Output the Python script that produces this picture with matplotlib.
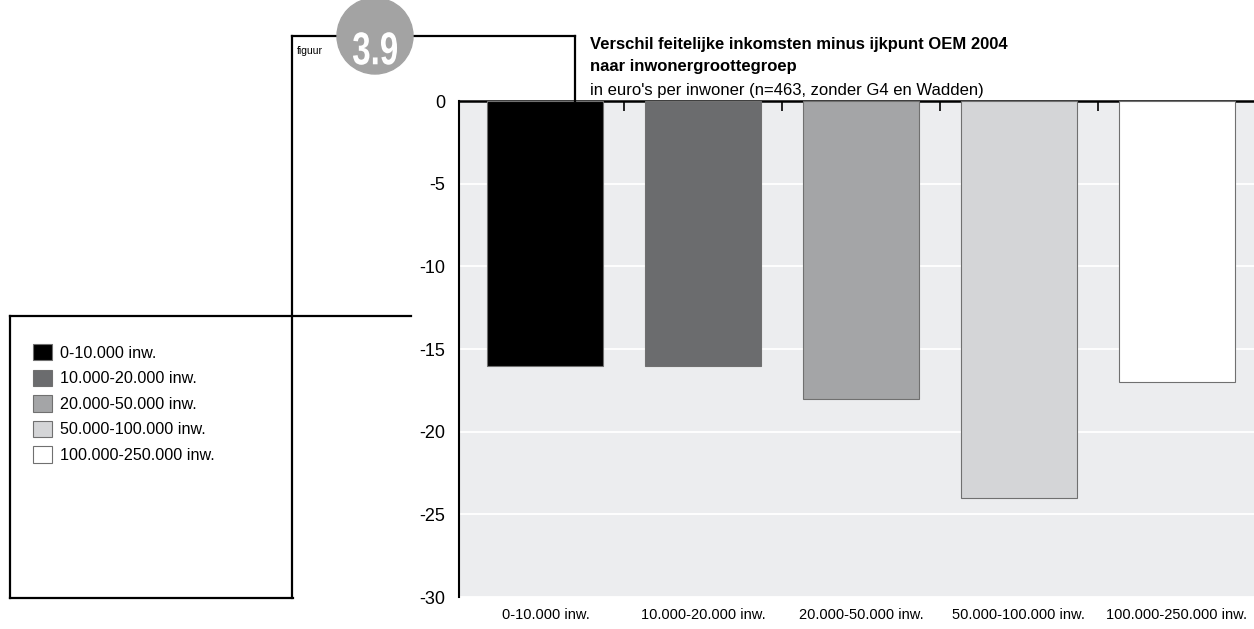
import matplotlib.pyplot as plt
from matplotlib.lines import Line2D
from matplotlib.patches import Circle, Patch, PathPatch
from matplotlib.textpath import TextPath
from matplotlib.font_manager import FontProperties
from matplotlib.transforms import IdentityTransform, Affine2D

plt.rcParams['font.family'] = ['Liberation Sans', 'DejaVu Sans']

groepen = ['0-10.000 inw.', '10.000-20.000 inw.', '20.000-50.000 inw.',
           '50.000-100.000 inw.', '100.000-250.000 inw.']
verschil = [-16, -16, -18, -24, -17]
kleuren = ['#000000', '#6b6c6e', '#a4a5a7', '#d4d5d7', '#ffffff']
y_ticks = [0, -5, -10, -15, -20, -25, -30]

W, H = 1254, 629
fig = plt.figure(figsize=(W / 100, H / 100), dpi=100)


def fx(x):
    return x / W


def fy(y):
    return 1 - y / H


# plot area
ax = fig.add_axes([fx(459), fy(597), fx(1254) - fx(459), fy(101) - fy(597)])
ax.set_facecolor('#ecedef')
x = list(range(len(groepen)))
ax.bar(x, verschil, width=0.735, color=kleuren, edgecolor='#707070',
       linewidth=0.8, zorder=3)
ax.set_xlim(-0.548, 4.49)
ax.set_ylim(-30, 0)
ax.set_yticks(y_ticks)
ax.set_yticklabels([str(v) for v in y_ticks], fontsize=13)
ax.yaxis.grid(True, color='white', linewidth=1.3, zorder=0)
ax.set_axisbelow(True)
ax.tick_params(axis='y', length=0, pad=10)

ax.set_xticks(x)
ax.set_xticklabels(groepen, fontsize=10.5)
ax.tick_params(axis='x', which='major', length=0, pad=8)
ax.set_xticks([0.5, 1.5, 2.5, 3.5], minor=True)
ax.tick_params(axis='x', which='minor', top=True, bottom=False,
               direction='in', length=7.5, width=1.2, color='black')

for side in ['right', 'bottom']:
    ax.spines[side].set_visible(False)
ax.spines['left'].set_linewidth(1.5)
ax.spines['top'].set_linewidth(1.8)

# frame lines around header and legend
lijnen = [
    ((292, 292), (36, 598)),
    ((292, 575), (36, 36)),
    ((575, 575), (36, 101)),
    ((10, 411), (316, 316)),
    ((10, 10), (316, 598)),
    ((10, 293), (598, 598)),
]
for xs, ys in lijnen:
    fig.add_artist(Line2D([fx(v) for v in xs], [fy(v) for v in ys],
                          color='black', linewidth=1.6,
                          transform=fig.transFigure))

# figure number badge, narrow bold digits
fig.add_artist(Circle((375, H - 36), 38, transform=IdentityTransform(),
                      color='#a3a3a3', zorder=5))
nummer = TextPath((0, 0), '3.9', size=46,
                  prop=FontProperties(family='Liberation Sans', weight='bold'))
bb = nummer.get_extents()
schaal = Affine2D().translate(-(bb.x0 + bb.x1) / 2, -(bb.y0 + bb.y1) / 2) \
    .scale(0.72, 1.0).translate(375, H - 48.5)
fig.add_artist(PathPatch(nummer, transform=schaal, facecolor='white',
                         edgecolor='none', zorder=6))
fig.text(fx(297), fy(51), 'figuur', fontsize=7.5, va='center')

# title block
fig.text(fx(590), fy(44), 'Verschil feitelijke inkomsten minus ijkpunt OEM 2004',
         fontsize=12, fontweight='bold', va='center')
fig.text(fx(590), fy(67), 'naar inwonergroottegroep',
         fontsize=12, fontweight='bold', va='center')
fig.text(fx(590), fy(90), "in euro's per inwoner (n=463, zonder G4 en Wadden)",
         fontsize=12, va='center')

# legend
handles = [Patch(facecolor=c, edgecolor='#707070', linewidth=0.8) for c in kleuren]
fig.legend(handles, groepen, loc='upper left',
           bbox_to_anchor=(fx(33), fy(344)), frameon=False, fontsize=11.6,
           handlelength=1.18, handleheight=1.18, handletextpad=0.5,
           labelspacing=0.56, borderaxespad=0, borderpad=0)

fig.savefig('out.png', dpi=100)
